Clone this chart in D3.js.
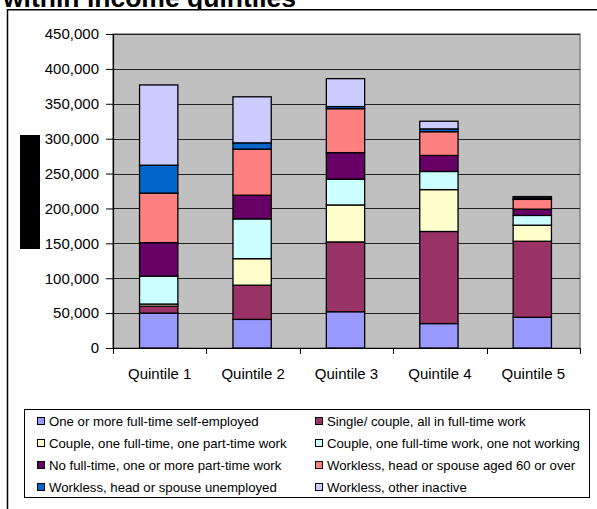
<!DOCTYPE html>
<html>
<head>
<meta charset="utf-8">
<script src="https://cdn.jsdelivr.net/npm/d3@7"></script>
<style>
  html, body { margin: 0; padding: 0; background: #fff; }
  svg { display: block; font-family: "Liberation Sans", Arial, sans-serif; }
</style>
</head>
<body>
<svg id="chart" width="597" height="509"></svg>
<script>
// Households by family work status, within income quintiles
const categories = ["Quintile 1", "Quintile 2", "Quintile 3", "Quintile 4", "Quintile 5"];

const seriesNames = [
  "One or more full-time self-employed",
  "Single/ couple, all in full-time work",
  "Couple, one full-time, one part-time work",
  "Couple, one full-time work, one not working",
  "No full-time, one or more part-time work",
  "Workless, head or spouse aged 60 or over",
  "Workless, head or spouse unemployed",
  "Workless, other inactive"
];

const seriesColors = ["#9999FF", "#993366", "#FFFFCC", "#CCFFFF", "#660066", "#FF8080", "#0066CC", "#CCCCFF"];

// Households per quintile for each status
const selfEmployed   = [50000, 41000, 52000, 35000, 44000];
const allFullTime    = [10000, 49000, 100000, 132000, 109000];
const fullPartTime   = [3000, 38000, 53000, 60000, 23000];
const fullNotWorking = [40000, 57000, 37000, 26000, 14000];
const partTimeOnly   = [48000, 34000, 38000, 23000, 9000];
const aged60Plus     = [71000, 66000, 63000, 34000, 14000];
const unemployed     = [40000, 9000, 3000, 4000, 2000];
const otherInactive  = [115000, 66000, 40000, 11000, 2000];

const yTicks = [0, 50000, 100000, 150000, 200000, 250000, 300000, 350000, 400000, 450000];

const seriesValues = [selfEmployed, allFullTime, fullPartTime, fullNotWorking,
                      partTimeOnly, aged60Plus, unemployed, otherInactive];

const rows = categories.map((c, i) => {
  const r = { category: c };
  seriesNames.forEach((s, j) => { r[s] = seriesValues[j][i]; });
  return r;
});

const svg = d3.select("#chart");

// Title (partly above the chart frame)
svg.append("text")
  .attr("x", 3).attr("y", 7)
  .attr("font-weight", "bold")
  .attr("font-size", 26.5)
  .attr("fill", "#000")
  .text("within income quintiles");

// Chart frame
svg.append("rect")
  .attr("x", 7.5).attr("y", 9.75)
  .attr("width", 620).attr("height", 520)
  .attr("fill", "#fff")
  .attr("stroke", "#000").attr("stroke-width", 1.5);

const plot = { left: 113, right: 580, top: 34, bottom: 348 };

const x = d3.scaleBand().domain(categories).range([plot.left, plot.right]).padding(0);
const y = d3.scaleLinear().domain([0, 450000]).range([plot.bottom, plot.top]);

// Plot area
svg.append("rect")
  .attr("x", plot.left).attr("y", plot.top)
  .attr("width", plot.right - plot.left).attr("height", plot.bottom - plot.top)
  .attr("fill", "#C0C0C0")
  .attr("stroke", "#808080").attr("stroke-width", 1.5);

// Gridlines
svg.append("g")
  .selectAll("line")
  .data(yTicks.filter(t => t > 0))
  .join("line")
  .attr("x1", plot.left).attr("x2", plot.right)
  .attr("y1", d => Math.round(y(d)) + 0.5).attr("y2", d => Math.round(y(d)) + 0.5)
  .attr("stroke", "#222").attr("stroke-width", 1);

// Y axis
const yAxis = svg.append("g")
  .attr("transform", `translate(${plot.left},0)`)
  .call(d3.axisLeft(y).tickValues(yTicks).tickFormat(d3.format(",")).tickSize(7).tickPadding(7));
yAxis.select(".domain").attr("stroke", "#000").attr("stroke-width", 1.2);
yAxis.selectAll(".tick line").attr("stroke", "#000");
yAxis.selectAll(".tick text").attr("font-size", 15).attr("fill", "#000")
  .attr("font-family", "'Liberation Sans', Arial, sans-serif");

// Stacked bars
const stack = d3.stack().keys(seriesNames);
const layers = stack(rows);
const barW = x.bandwidth() * 0.41;

svg.append("g")
  .selectAll("g")
  .data(layers)
  .join("g")
  .attr("fill", (d, i) => seriesColors[i])
  .selectAll("rect")
  .data(d => d)
  .join("rect")
  .attr("x", d => x(d.data.category) + (x.bandwidth() - barW) / 2 - 1)
  .attr("width", barW)
  .attr("y", d => y(d[1]))
  .attr("height", d => y(d[0]) - y(d[1]))
  .attr("stroke", "#000").attr("stroke-width", 1.3);

// X axis
const xAxis = svg.append("g")
  .attr("transform", `translate(0,${plot.bottom})`)
  .call(d3.axisBottom(x).tickSize(0).tickPadding(20));
xAxis.select(".domain").attr("stroke", "#000").attr("stroke-width", 1.2);
xAxis.selectAll(".tick text").attr("font-size", 15).attr("fill", "#000")
  .attr("font-family", "'Liberation Sans', Arial, sans-serif");

// Category separator ticks
svg.append("g")
  .selectAll("line")
  .data(d3.range(categories.length + 1))
  .join("line")
  .attr("x1", i => Math.round(plot.left + i * x.step()) + 0.5)
  .attr("x2", i => Math.round(plot.left + i * x.step()) + 0.5)
  .attr("y1", plot.bottom).attr("y2", plot.bottom + 6)
  .attr("stroke", "#000");

// Black block beside the value axis
svg.append("rect")
  .attr("x", 20).attr("y", 135).attr("width", 20).attr("height", 114)
  .attr("fill", "#000");

// Legend
const legend = svg.append("g");
legend.append("rect")
  .attr("x", 24.5).attr("y", 409.5).attr("width", 565).attr("height", 88)
  .attr("fill", "#fff").attr("stroke", "#000").attr("stroke-width", 1);

const rowY = [421, 443, 465, 487];
const colX = [37, 315];
seriesNames.forEach((name, i) => {
  const col = i % 2, row = Math.floor(i / 2);
  const g = legend.append("g").attr("transform", `translate(${colX[col]},${rowY[row]})`);
  g.append("rect")
    .attr("x", 0.5).attr("y", -3.5).attr("width", 7).attr("height", 7)
    .attr("fill", seriesColors[i]).attr("stroke", "#000").attr("stroke-width", 1);
  g.append("text")
    .attr("x", 12).attr("y", 0).attr("dy", "0.35em")
    .attr("font-size", 13.2).attr("fill", "#000")
    .text(name);
});
</script>
</body>
</html>
